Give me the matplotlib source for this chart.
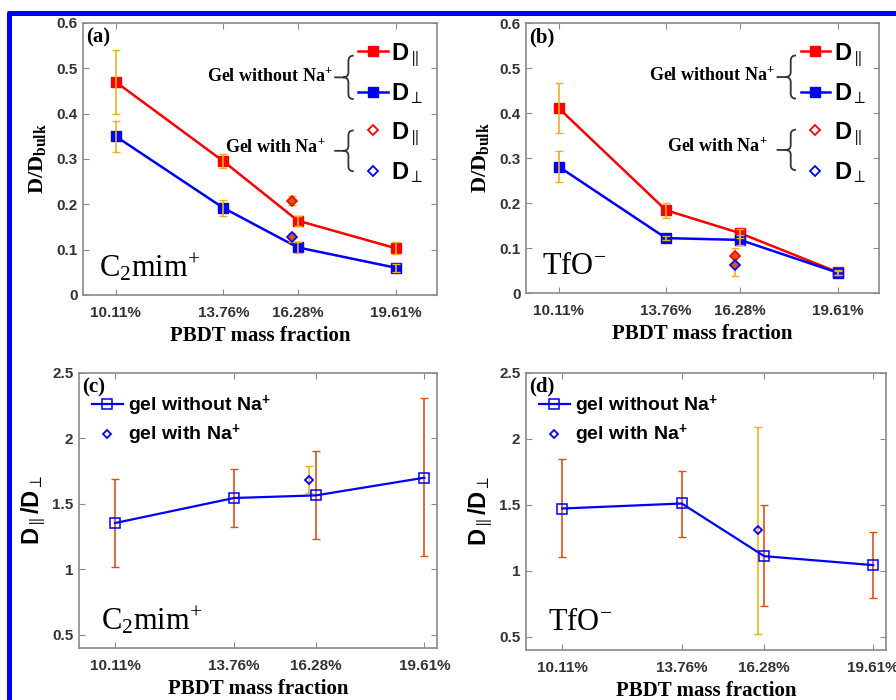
import matplotlib
matplotlib.use('Agg')
import matplotlib.pyplot as plt
from matplotlib.path import Path
from matplotlib.patches import PathPatch
from matplotlib.lines import Line2D

plt.rcParams['mathtext.fontset'] = 'custom'
plt.rcParams['mathtext.rm'] = 'Liberation Serif'
plt.rcParams['mathtext.bf'] = 'Liberation Serif:bold'
plt.rcParams['mathtext.sf'] = 'Liberation Sans:bold'
plt.rcParams['mathtext.it'] = 'Liberation Serif:italic'

# ---------------- data ----------------
fractions = [10.11, 13.76, 16.28, 19.61]
tick_labels = ['10.11%', '13.76%', '16.28%', '19.61%']
with_na_x = 16.10

a_par = [0.470, 0.295, 0.164, 0.103]
a_par_err = [0.070, 0.016, 0.011, 0.013]
a_perp = [0.350, 0.192, 0.105, 0.060]
a_perp_err = [0.034, 0.017, 0.012, 0.009]
a_na_par, a_na_par_err = 0.208, 0.010
a_na_perp, a_na_perp_err = 0.127, 0.010

b_par = [0.411, 0.184, 0.133, 0.046]
b_par_err = [0.055, 0.017, 0.010, 0.005]
b_perp = [0.281, 0.122, 0.118, 0.045]
b_perp_err = [0.034, 0.005, 0.012, 0.004]
b_na_par, b_na_par_err = 0.083, 0.017
b_na_perp, b_na_perp_err = 0.063, 0.025

c_ratio = [1.354, 1.545, 1.565, 1.700]
c_lo = [1.020, 1.325, 1.230, 1.104]
c_hi = [1.690, 1.770, 1.900, 2.310]
c_na, c_na_lo, c_na_hi = 1.685, 1.580, 1.786

d_ratio = [1.472, 1.510, 1.111, 1.043]
d_lo = [1.104, 1.255, 0.732, 0.795]
d_hi = [1.848, 1.758, 1.497, 1.295]
d_na, d_na_lo, d_na_hi = 1.306, 0.523, 2.090

top_yticks = [0, 0.1, 0.2, 0.3, 0.4, 0.5, 0.6]
top_ylabels = ['0', '0.1', '0.2', '0.3', '0.4', '0.5', '0.6']
bot_yticks = [0.5, 1.0, 1.5, 2.0, 2.5]
bot_ylabels = ['0.5', '1', '1.5', '2', '2.5']

RED = '#FF0000'
BLUE = '#0000FF'
YEL = '#EDB120'
ORG = '#D95319'
SPINE = '#8a8a8a'

fig = plt.figure(figsize=(8.96, 7.0), dpi=100)

# blue frame (figure decoration)
fig.add_artist(Line2D([0.0105, 0.0105], [0.0, 0.9835], transform=fig.transFigure,
                      color=BLUE, lw=3.6, solid_capstyle='butt'))
fig.add_artist(Line2D([0.008, 1.0], [0.9815, 0.9815], transform=fig.transFigure,
                      color=BLUE, lw=3.6, solid_capstyle='butt'))


def style(ax, xlim, ylim, yticks, ylabels):
    ax.set_xlim(xlim)
    ax.set_ylim(ylim)
    ax.set_xticks(fractions)
    ax.set_xticklabels(tick_labels)
    ax.set_yticks(yticks)
    ax.set_yticklabels(ylabels)
    ax.tick_params(direction='in', top=True, right=True, length=4, width=0.8,
                   color=SPINE, labelsize=11, labelcolor='#333333')
    ax.tick_params(axis='x', pad=8)
    ax.tick_params(axis='y', pad=4)
    for lab in ax.get_xticklabels() + ax.get_yticklabels():
        lab.set_fontweight('bold')
        lab.set_family('Liberation Sans')
    for s in ax.spines.values():
        s.set_color(SPINE)
        s.set_linewidth(1.2)
    ax.set_xlabel('PBDT mass fraction', family='Liberation Serif', fontweight='bold',
                  fontsize=15, labelpad=4)


def brace(ax, x, yc, h, w=0.03, tip=0.025):
    # curly brace opening to the right, in axes coords
    r = h * 0.12
    verts = [
        (x + w, yc + h / 2),
        (x + w / 2, yc + h / 2), (x + w / 2, yc + h / 2 - r),
        (x + w / 2, yc + r),
        (x + w / 2, yc), (x, yc),
        (x - tip, yc),
        (x, yc),
        (x + w / 2, yc), (x + w / 2, yc - r),
        (x + w / 2, yc - h / 2 + r),
        (x + w / 2, yc - h / 2), (x + w, yc - h / 2),
    ]
    codes = [Path.MOVETO,
             Path.CURVE3, Path.CURVE3,
             Path.LINETO,
             Path.CURVE3, Path.CURVE3,
             Path.LINETO,
             Path.MOVETO,
             Path.CURVE3, Path.CURVE3,
             Path.LINETO,
             Path.CURVE3, Path.CURVE3]
    ax.add_patch(PathPatch(Path(verts, codes), transform=ax.transAxes, fill=False,
                           ec='#333333', lw=1.3, clip_on=False))


def top_panel(rect, par, par_err, perp, perp_err, na_par, na_par_err,
              na_perp, na_perp_err, letter, ion):
    ax = fig.add_axes(rect)
    l1, = ax.plot(fractions, par, '-s', color=RED, lw=1.8, ms=7, mfc=RED, mec=RED)
    l2, = ax.plot(fractions, perp, '-s', color=BLUE, lw=1.8, ms=7, mfc=BLUE, mec=BLUE)
    ax.errorbar(fractions, par, yerr=par_err, fmt='none', ecolor=YEL, elinewidth=1.2,
                capsize=3)
    ax.errorbar(fractions, perp, yerr=perp_err, fmt='none', ecolor=YEL, elinewidth=1.2,
                capsize=3)
    ax.errorbar([with_na_x], [na_par], yerr=[na_par_err], fmt='none', ecolor=YEL,
                elinewidth=1.2, capsize=3)
    ax.errorbar([with_na_x], [na_perp], yerr=[na_perp_err], fmt='none', ecolor=YEL,
                elinewidth=1.2, capsize=3)
    ax.plot([with_na_x], [na_par], 'D', ms=5, mfc=ORG, mec=RED, mew=1.2)
    ax.plot([with_na_x], [na_perp], 'D', ms=5, mfc=ORG, mec=BLUE, mew=1.2)
    h3 = Line2D([], [], ls='none', marker='D', ms=5, mfc='white', mec=RED, mew=1.3)
    h4 = Line2D([], [], ls='none', marker='D', ms=5, mfc='white', mec=BLUE, mew=1.3)
    style(ax, (9, 21), (0, 0.6), top_yticks, top_ylabels)
    ax.set_ylabel(r'$\mathbf{D/D_{bulk}}$', fontsize=16, labelpad=6)
    ax.legend([l1, l2, h3, h4],
              [r'$\mathsf{D}_{\parallel}$', r'$\mathsf{D}_{\perp}$',
               r'$\mathsf{D}_{\parallel}$', r'$\mathsf{D}_{\perp}$'],
              loc='upper left', bbox_to_anchor=(0.778, 0.935), frameon=False,
              fontsize=17, handlelength=1.25, handletextpad=0.15,
              labelspacing=0.58, borderpad=0, borderaxespad=0)
    ax.text(0.705, 0.806, r'Gel without Na$^{\mathbf{+}}$', transform=ax.transAxes,
            ha='right', va='center', family='Liberation Serif', fontweight='bold',
            fontsize=13)
    ax.text(0.685, 0.545, r'Gel with Na$^{\mathbf{+}}$', transform=ax.transAxes,
            ha='right', va='center', family='Liberation Serif', fontweight='bold',
            fontsize=13)
    brace(ax, 0.735, 0.800, 0.16)
    brace(ax, 0.735, 0.530, 0.15)
    ax.text(0.008, 0.985, letter, transform=ax.transAxes, ha='left', va='top',
            family='Liberation Serif', fontweight='bold', fontsize=15)
    ax.text(0.045, 0.10, ion, transform=ax.transAxes, ha='left', va='center',
            family='Liberation Serif', fontsize=22)
    return ax


def bottom_panel(rect, ratio, lo, hi, na, na_lo, na_hi, letter, ion):
    ax = fig.add_axes(rect)
    ax.errorbar(fractions, ratio,
                yerr=[[r - a for r, a in zip(ratio, lo)], [b - r for r, b in zip(ratio, hi)]],
                fmt='none', ecolor=ORG, elinewidth=1.2, capsize=3)
    ax.errorbar([with_na_x - 0.02], [na], yerr=[[na - na_lo], [na_hi - na]], fmt='none',
                ecolor=YEL, elinewidth=1.2, capsize=3)
    l1, = ax.plot(fractions, ratio, '-s', color=BLUE, lw=1.6, ms=6.5, mfc='none',
                  mec=BLUE, mew=1.1)
    l2, = ax.plot([with_na_x - 0.02], [na], 'D', ls='none', ms=4.5, mfc='none',
                  mec=BLUE, mew=1.3)
    style(ax, (9, 20), (0.4, 2.5), bot_yticks, bot_ylabels)
    ax.set_ylabel(r'$\mathsf{D}_{\parallel}\mathsf{/D}_{\perp}$', fontsize=17, labelpad=4)
    ax.legend([l1, l2], [r'gel without Na$^{\mathsf{+}}$', r'gel with Na$^{\mathsf{+}}$'],
              loc='upper left', bbox_to_anchor=(0.035, 0.925), frameon=False,
              prop={'family': 'Liberation Sans', 'weight': 'bold', 'size': 14},
              handlelength=1.6, handletextpad=0.25, labelspacing=0.22,
              borderpad=0, borderaxespad=0)
    ax.text(0.008, 0.985, letter, transform=ax.transAxes, ha='left', va='top',
            family='Liberation Serif', fontweight='bold', fontsize=15)
    ax.text(0.06, 0.10, ion, transform=ax.transAxes, ha='left', va='center',
            family='Liberation Serif', fontsize=22)
    return ax


top_panel([0.0926, 0.5786, 0.395, 0.3886], a_par, a_par_err, a_perp, a_perp_err,
          a_na_par, a_na_par_err, a_na_perp, a_na_perp_err, '(a)', r'C$_2$mim$^{+}$')
top_panel([0.587, 0.5814, 0.394, 0.3857], b_par, b_par_err, b_perp, b_perp_err,
          b_na_par, b_na_par_err, b_na_perp, b_na_perp_err, '(b)', r'TfO$^{-}$')
bottom_panel([0.0882, 0.0743, 0.3996, 0.393], c_ratio, c_lo, c_hi, c_na, c_na_lo, c_na_hi,
             '(c)', r'C$_2$mim$^{+}$')
bottom_panel([0.587, 0.0714, 0.4018, 0.396], d_ratio, d_lo, d_hi, d_na, d_na_lo, d_na_hi,
             '(d)', r'TfO$^{-}$')

fig.savefig('out.png', dpi=100)
